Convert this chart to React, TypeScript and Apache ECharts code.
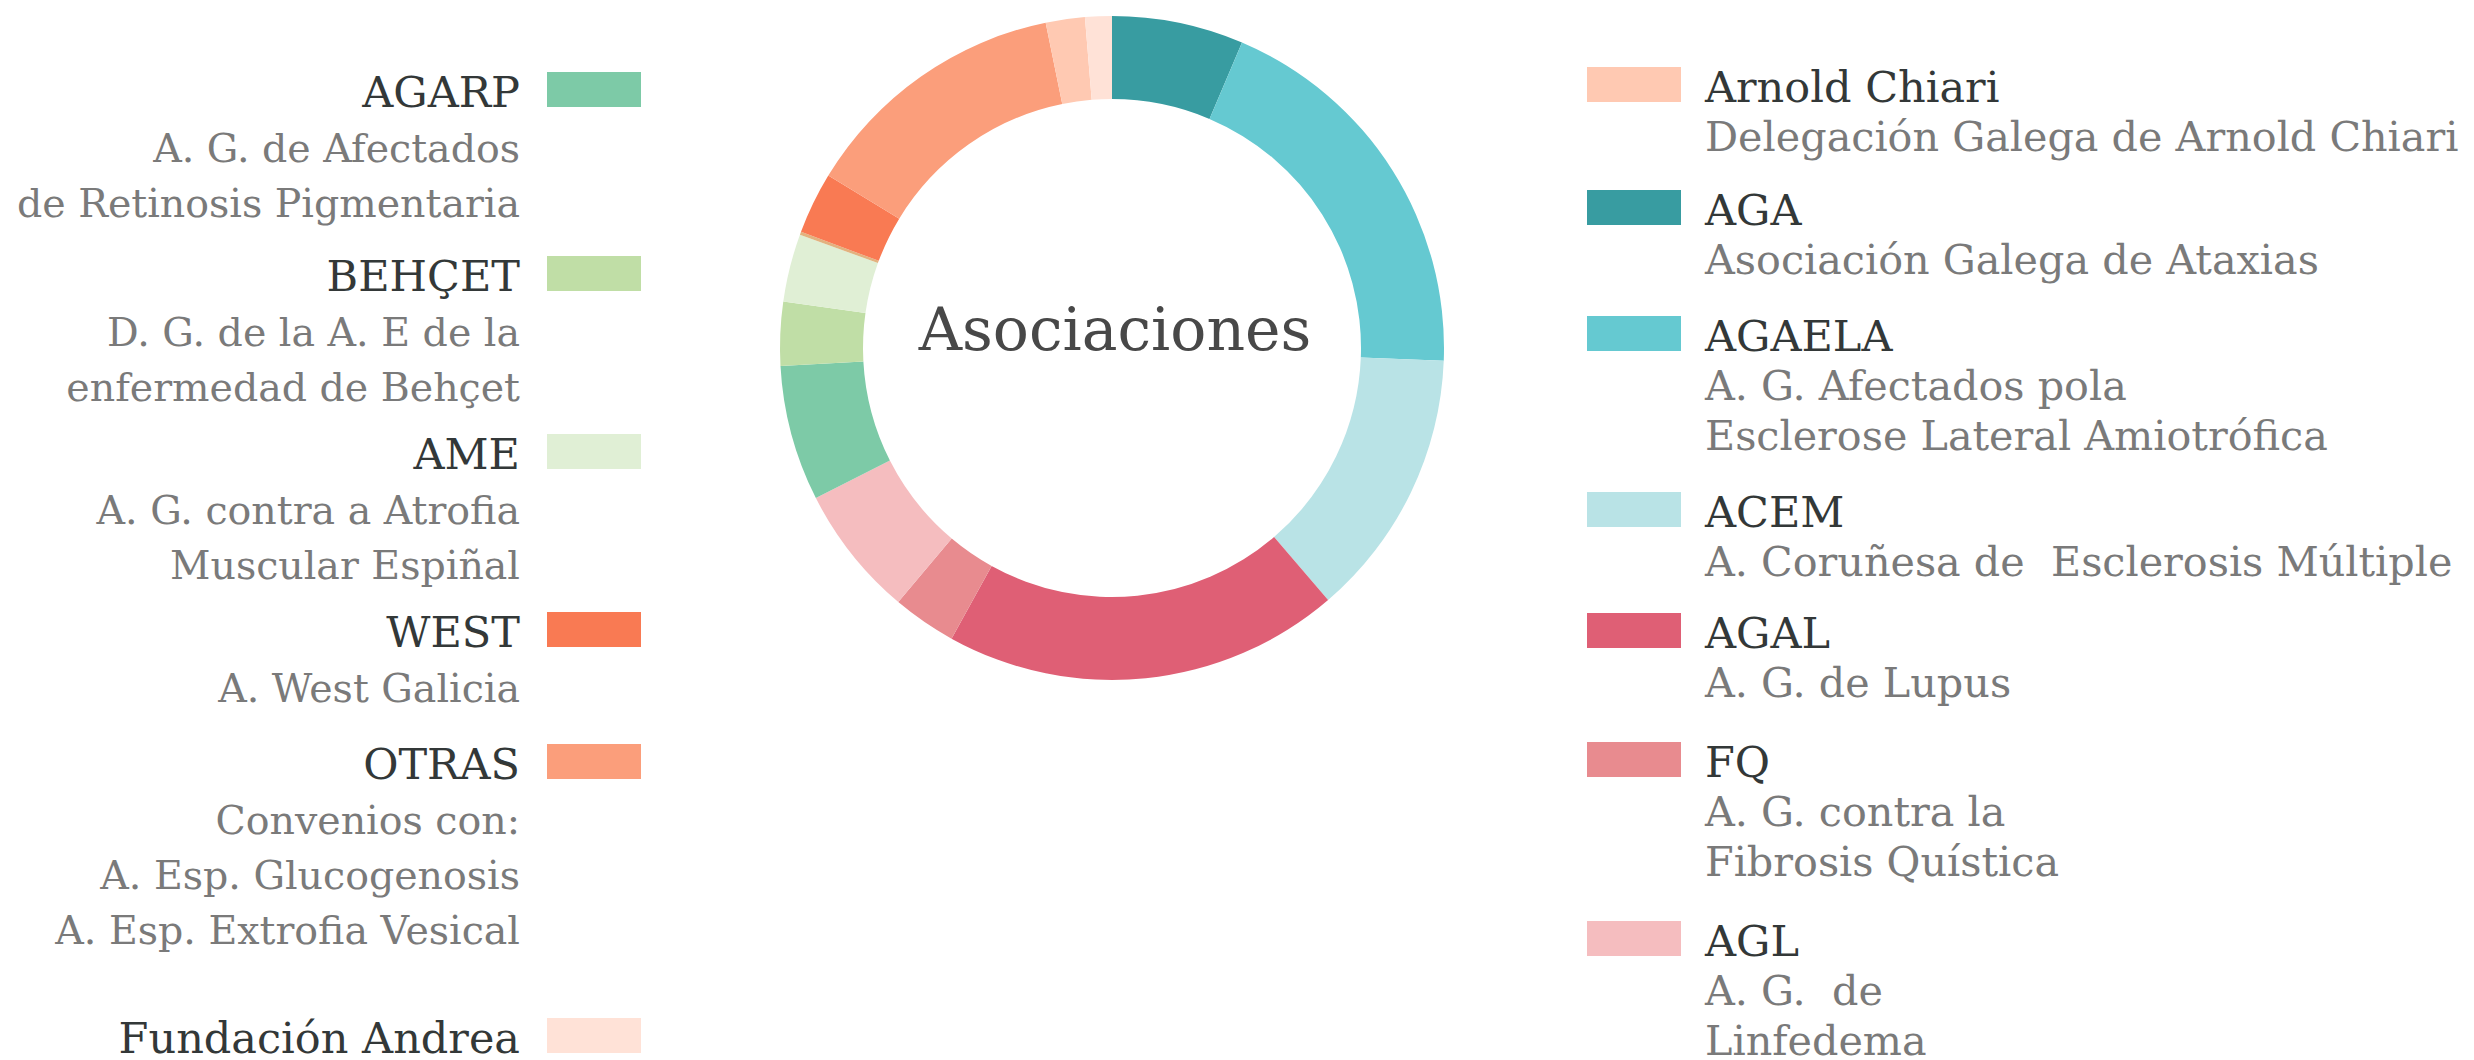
import React, { useEffect, useRef } from "react";
import * as echarts from "echarts";

// ---- Data (slices clockwise from 12 o'clock) ----
const sliceNames = [
  "AGA", "AGAELA", "ACEM", "AGAL", "FQ", "AGL", "AGARP", "BEHÇET", "AME",
  "Outras", "WEST", "OTRAS", "Arnold Chiari", "Fundación Andrea",
];
const sliceValues = [6.4, 19.2, 13.1, 19.3, 3.1, 6.4, 6.6, 3.1, 3.3, 0.15, 3.0, 13.1, 1.9, 1.3];
const sliceColors = [
  "#389ca1", "#65c9d1", "#b9e3e6", "#df5f75", "#e88b8f", "#f5bdbf", "#7dcaa7",
  "#c0dea6", "#e0efd5", "#e2b27f", "#f97a53", "#fb9e7b", "#ffc9b2", "#ffe2d7",
];

const centerTitle = "Asociaciones";

const leftTitles = ["AGARP", "BEHÇET", "AME", "WEST", "OTRAS", "Fundación Andrea"];
const leftSubs = [
  ["A. G. de Afectados", "de Retinosis Pigmentaria"],
  ["D. G. de la A. E de la", "enfermedad de Behçet"],
  ["A. G. contra a Atrofia", "Muscular Espiñal"],
  ["A. West Galicia"],
  ["Convenios con:", "A. Esp. Glucogenosis", "A. Esp. Extrofia Vesical"],
  [],
];
const rightTitles = ["Arnold Chiari", "AGA", "AGAELA", "ACEM", "AGAL", "FQ", "AGL"];
const rightSubs = [
  ["Delegación Galega de Arnold Chiari"],
  ["Asociación Galega de Ataxias"],
  ["A. G. Afectados pola", "Esclerose Lateral Amiotrófica"],
  ["A. Coruñesa de  Esclerosis Múltiple"],
  ["A. G. de Lupus"],
  ["A. G. contra la", "Fibrosis Quística"],
  ["A. G.  de", "Linfedema"],
];

// ---- Layout (pixels) ----
const W = 2474;
const H = 1060;
const FONT = "'DejaVu Serif', 'Liberation Serif', serif";
const TITLE_SIZE = 43;
const LEFT_SUB_SIZE = 39.5;
const RIGHT_SUB_SIZE = 41.3;
const TITLE_COLOR = "#333838";
const SUB_COLOR = "#7a7a7a";
const leftBaselines = [107, 291, 469, 647, 779, 1053];
const rightBaselines = [102, 225, 351, 527, 648, 777, 956];
const LEFT_TEXT_X = 520;
const LEFT_SW_X = 547;
const RIGHT_SW_X = 1587;
const RIGHT_TEXT_X = 1705;
const SW_W = 94;
const SW_H = 35;
const LEFT_LINE = 55;
const RIGHT_LINE = 50;

function colorOf(name: string) {
  return sliceColors[sliceNames.indexOf(name)];
}

function textEl(text: string, x: number, baseline: number, size: number, fill: string, align: string) {
  return {
    type: "text",
    silent: true,
    x,
    y: baseline - size * 0.36,
    style: {
      text,
      fontSize: size,
      fontFamily: FONT,
      fill,
      align,
      textAlign: align,
      verticalAlign: "middle",
      textVerticalAlign: "middle",
    },
  };
}

function buildGraphics() {
  const els: any[] = [];
  leftTitles.forEach((t, i) => {
    const b = leftBaselines[i];
    els.push(textEl(t, LEFT_TEXT_X, b, TITLE_SIZE, TITLE_COLOR, "right"));
    leftSubs[i].forEach((s, j) => {
      els.push(textEl(s, LEFT_TEXT_X, b + LEFT_LINE * (j + 1), LEFT_SUB_SIZE, SUB_COLOR, "right"));
    });
    els.push({
      type: "rect",
      silent: true,
      shape: { x: LEFT_SW_X, y: b - SW_H, width: SW_W, height: SW_H },
      style: { fill: colorOf(t) },
    });
  });
  rightTitles.forEach((t, i) => {
    const b = rightBaselines[i];
    els.push(textEl(t, RIGHT_TEXT_X, b, TITLE_SIZE, TITLE_COLOR, "left"));
    rightSubs[i].forEach((s, j) => {
      els.push(textEl(s, RIGHT_TEXT_X, b + RIGHT_LINE * (j + 1), RIGHT_SUB_SIZE, SUB_COLOR, "left"));
    });
    els.push({
      type: "rect",
      silent: true,
      shape: { x: RIGHT_SW_X, y: b - SW_H, width: SW_W, height: SW_H },
      style: { fill: colorOf(t) },
    });
  });
  els.push(textEl(centerTitle, 1115, 351, 60, "#484848", "center"));
  return els;
}

export default function App() {
  const ref = useRef<HTMLDivElement>(null);
  useEffect(() => {
    if (!ref.current) return;
    const chart = echarts.init(ref.current, undefined, { renderer: "svg" });
    chart.setOption({
      animation: false,
      backgroundColor: "#ffffff",
      series: [
        {
          type: "pie",
          center: [1112, 348],
          radius: [249, 332],
          startAngle: 90,
          clockwise: true,
          label: { show: false },
          labelLine: { show: false },
          emphasis: { disabled: true },
          silent: true,
          itemStyle: { borderWidth: 0 },
          data: sliceNames.map((n, i) => ({
            name: n,
            value: sliceValues[i],
            itemStyle: { color: sliceColors[i] },
          })),
        },
      ],
      graphic: buildGraphics(),
    });
    return () => chart.dispose();
  }, []);
  return (
    <div
      ref={ref}
      style={{ position: "absolute", left: 0, top: 0, width: W, height: H }}
    />
  );
}
